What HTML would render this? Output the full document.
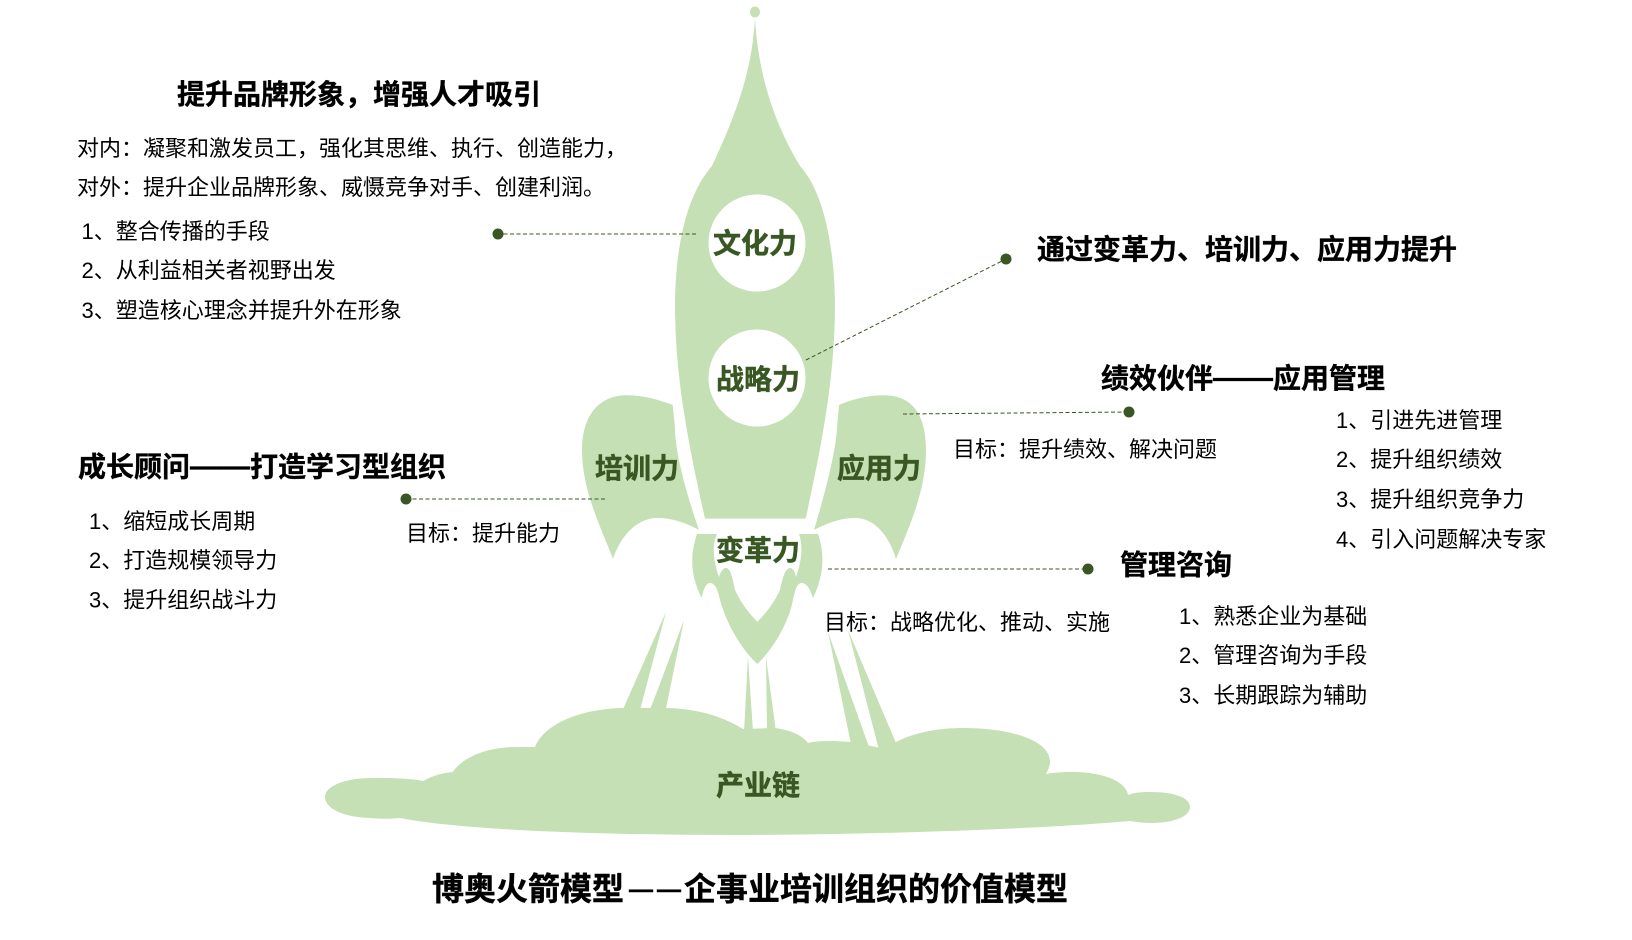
<!DOCTYPE html>
<html lang="zh">
<head>
<meta charset="utf-8">
<title>博奥火箭模型</title>
<style>
html,body{margin:0;padding:0;background:#fff;width:1632px;height:940px;overflow:hidden}
svg{display:block}
text{font-family:"Liberation Sans","Noto Sans CJK SC",sans-serif;fill:#000}
.h{font-size:28px;font-weight:700;stroke:#000;stroke-width:.35px}
.b{font-size:22px}
.g{font-size:28px;font-weight:700;fill:#385723;stroke:#385723;stroke-width:.5px}
.l{stroke:#385723;stroke-width:1;stroke-dasharray:4 2.5;fill:none}
</style>
</head>
<body>
<svg width="1632" height="940" viewBox="0 0 1632 940" xmlns="http://www.w3.org/2000/svg">
<g fill="#c5e0b4">
  <ellipse cx="755" cy="12" rx="5" ry="5.5"/>
  <path d="M755 18C752 70 738 110 712 166C695 185 676 225 675 303C675 370 685 430 705 518.6L805.7 518.6C825 430 835 370 835 303C834 230 818 185 800 166C775 125 758 75 755 18Z"/>
  <path d="M672.7 405C650 396 630 394 618 396C595 400 582 420 582 450C582 490 600 525 613 559C622 532 640 518 657 518C675 518 690 525 699 530C685 490 675 450 675 428Z"/>
  <path d="M839 405C860 396 880 394 893 396C916 400 926 420 926 450C926 490 910 525 896 559C888 532 872 518 855 518C838 518 824 525 814 530C826 490 836 450 837 428Z"/>
  <path d="M697 534L717 534C712 545 713 560 719 577C721 570 725 567 726 568C730 568 732 575 735 590C742 605 750 614 757.3 621.7C765 614 773 605 780 590C783 575 786 568 790 568C793 568 795 572 796 577C802 560 803 545 799 534L818 534C825 555 824 575 813 598C810 588 806 583 802 583C797 583 795 590 793 600C788 625 772 650 757.3 664C742 650 727 625 720 600C718 590 715 583 710 583C706 583 703 590 701.7 598C690 575 690 555 697 534Z"/>
  <polygon points="666,612 622.7,710 640,710"/>
  <polygon points="684,620 650,710 665.7,710"/>
  <polygon points="748,657 744,732 753,732"/>
  <polygon points="766,657 767,732 776,732"/>
  <polygon points="828,632 851,744 869,747"/>
  <polygon points="848,630 879,750 896,743"/>
  <path d="M423 781C432 776 442 773 452.6 772C465 755 490 747 517 747L535 747C545 722 585 708 626 708L664 708C695 708 722 716 743 729L775 728C790 730 802 735 808 743C815 741 825 741 834 741L852 742L881 748L896 742C915 732 940 728 963 728C1010 728 1050 740 1050 762C1050 766 1048 770 1046 774C1056 772 1066 772 1076 772C1106 773 1126 782 1128 795C1135 792 1143 792 1151 792C1175 792 1190 798 1190 807C1190 816 1175 823 1151 823C1143 823 1136 822 1130 821C1030 830 850 835 734 835C600 835 460 830 400 818C390 819 380 819 370 818C342 817 325 808 325 797C325 786 345 778 372 778C390 778 408 778 423 781Z"/>
</g>
<circle cx="757" cy="243" r="48.5" fill="#fff"/>
<circle cx="757" cy="378" r="48.5" fill="#fff"/>

<path class="l" d="M497 234H696"/>
<path class="l" d="M806 360L1006 259"/>
<path class="l" d="M903 414L1129 412"/>
<path class="l" d="M406 499H605"/>
<path class="l" d="M828 569H1088"/>
<g fill="#385723">
  <circle cx="498" cy="234" r="5.5"/>
  <circle cx="1006" cy="259" r="5.5"/>
  <circle cx="1129" cy="412" r="5.5"/>
  <circle cx="406" cy="499" r="5.5"/>
  <circle cx="1088" cy="569" r="5.5"/>
</g>

<text class="g" x="713" y="253">文化力</text>
<text class="g" x="716" y="389">战略力</text>
<text class="g" x="595" y="478">培训力</text>
<text class="g" x="837" y="478">应用力</text>
<text class="g" x="716" y="560">变革力</text>
<text class="g" x="716" y="795">产业链</text>

<text class="h" x="177" y="104">提升品牌形象，增强人才吸引</text>
<text class="b" x="77" y="156">对内：凝聚和激发员工，强化其思维、执行、创造能力，</text>
<text class="b" x="77" y="195">对外：提升企业品牌形象、威慑竞争对手、创建利润。</text>
<text class="b" x="81.5" y="239">1、整合传播的手段</text>
<text class="b" x="81.5" y="278">2、从利益相关者视野出发</text>
<text class="b" x="81.5" y="318">3、塑造核心理念并提升外在形象</text>

<text class="h" x="78" y="476.5">成长顾问<tspan font-size="30" dy="-0.7">——</tspan><tspan dy="0.7">打造学习型组织</tspan></text>
<text class="b" x="89" y="529">1、缩短成长周期</text>
<text class="b" x="89" y="568">2、打造规模领导力</text>
<text class="b" x="89" y="607.5">3、提升组织战斗力</text>
<text class="b" x="406" y="541">目标：提升能力</text>

<text class="h" x="1037" y="259">通过变革力、培训力、应用力提升</text>

<text class="h" x="1101" y="388">绩效伙伴<tspan font-size="30" dy="-0.7">——</tspan><tspan dy="0.7">应用管理</tspan></text>
<text class="b" x="953" y="457">目标：提升绩效、解决问题</text>
<text class="b" x="1336" y="428">1、引进先进管理</text>
<text class="b" x="1336" y="467">2、提升组织绩效</text>
<text class="b" x="1336" y="507">3、提升组织竞争力</text>
<text class="b" x="1336" y="547">4、引入问题解决专家</text>

<text class="h" x="1120" y="574.5">管理咨询</text>
<text class="b" x="824" y="630">目标：战略优化、推动、实施</text>
<text class="b" x="1179" y="624">1、熟悉企业为基础</text>
<text class="b" x="1179" y="663">2、管理咨询为手段</text>
<text class="b" x="1179" y="703">3、长期跟踪为辅助</text>

<text x="432" y="900" font-size="32" font-weight="700" stroke="#000" stroke-width=".4">博奥火箭模型<tspan font-size="24" dx="5" dy="-2.5" letter-spacing="4">——</tspan><tspan dy="2.5" dx="-1">企事业培训组织的价值模型</tspan></text>
</svg>
</body>
</html>
